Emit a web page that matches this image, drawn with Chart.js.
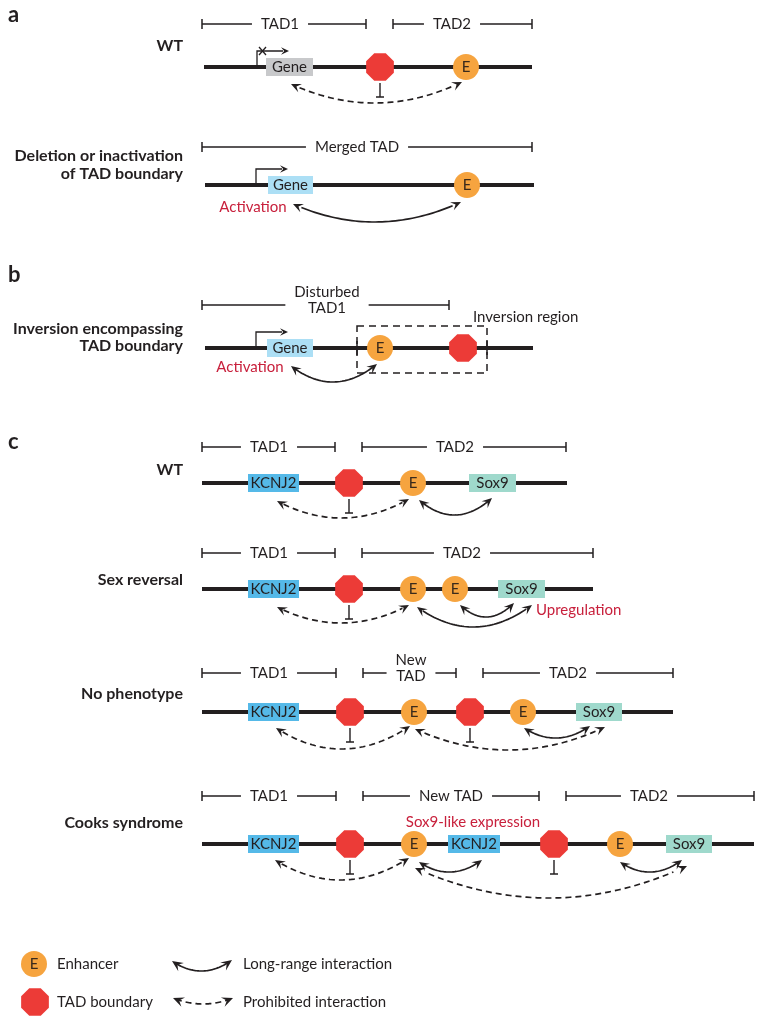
<!DOCTYPE html>
<html>
<head>
<meta charset="utf-8">
<script src="https://cdn.jsdelivr.net/npm/chart.js@4.4.1/dist/chart.umd.min.js"></script>
<style>
  html, body { margin: 0; padding: 0; background: #fff; }
  #wrap { width: 765px; height: 1024px; }
</style>
</head>
<body>
<div id="wrap"><canvas id="tad-chart" width="765" height="1024"></canvas></div>
<script>
// ---- data: tracks (x = position along the genome line) ----
const rowLabels = [
  ["WT"],
  ["Deletion or inactivation", "of TAD boundary"],
  ["Inversion encompassing", "TAD boundary"],
  ["WT"],
  ["Sex reversal"],
  ["No phenotype"],
  ["Cooks syndrome"]
];
const trackStart = [204, 205, 205, 202, 202, 202, 202];
const trackEnd = [532, 534, 533, 567, 593, 673, 754];

// [row, from, to, label, label centre]
const tads = [
  [0, 202, 366, "TAD1", 280], [0, 393, 532, "TAD2", 452],
  [1, 202, 532, "Merged TAD", 357],
  [2, 202, 449, "Disturbed\nTAD1", 327],
  [3, 202, 335, "TAD1", 269], [3, 362, 566, "TAD2", 455],
  [4, 202, 335, "TAD1", 269], [4, 362, 593, "TAD2", 462],
  [5, 202, 336, "TAD1", 269], [5, 363, 456, "New\nTAD", 411], [5, 483, 673, "TAD2", 568],
  [6, 202, 336, "TAD1", 269], [6, 363, 539, "New TAD", 451], [6, 566, 754, "TAD2", 649]
];

// [row, from, to, name, kind]
const genes = [
  [0, 266, 313, "Gene", "off"],
  [1, 268, 313, "Gene", "on"],
  [2, 267, 313, "Gene", "on"],
  [3, 248, 299, "KCNJ2", "kcnj2"], [3, 469, 516, "Sox9", "sox9"],
  [4, 248, 299, "KCNJ2", "kcnj2"], [4, 498, 545, "Sox9", "sox9"],
  [5, 248, 299, "KCNJ2", "kcnj2"], [5, 576, 622, "Sox9", "sox9"],
  [6, 248, 299, "KCNJ2", "kcnj2"], [6, 448, 500, "KCNJ2", "kcnj2"], [6, 666, 712, "Sox9", "sox9"]
];

// [row, x, blocks]  (blocks = draws the inhibition bar)
const boundaries = [
  [0, 380, true], [2, 463, false], [3, 349, true], [4, 349, true],
  [5, 350, true], [5, 470, true], [6, 350, true], [6, 554, true]
];
// [row, x]
const enhancers = [
  [0, 466], [1, 467], [2, 380], [3, 413], [4, 413], [4, 455],
  [5, 414], [5, 523], [6, 414], [6, 620]
];
// [row, x, silenced]
const promoters = [[0, 257, true], [1, 256, false], [2, 256, false]];

// [row, from, to, end drop, depth, prohibited]
const interactions = [
  [0, 291, 462, 17, 36, true],
  [1, 293, 461, 19, 37, false],
  [2, 291, 377, 18, 34, false],
  [3, 277, 409, 18, 35, true], [3, 419, 492, 17, 32, false],
  [4, 277, 409, 18, 34, true], [4, 417, 532, 18, 38, false], [4, 460, 514, 16, 28, false],
  [5, 276, 410, 16, 37, true], [5, 415, 605, 17, 38, true], [5, 524, 590, 16, 26, false],
  [6, 275, 409, 16, 36, true], [6, 419, 482, 18, 28, false], [6, 415, 687, 24, 54, true], [6, 620, 682, 18, 28, false]
];

// [row, text, x, align]
const notes = [
  [1, "Activation", 253, "center"],
  [2, "Activation", 250, "center"],
  [4, "Upregulation", 536, "left"],
  [6, "Sox9-like expression", 473, "center"]
];

// ---- layout ----
const rowY = [67, 185, 348, 483, 589, 712, 844];
const bracketY = [24, 147, 305, 447, 553, 673, 796];
const labelY = [[46], [156, 174], [329, 346], [470], [580], [694], [823]];
const noteY = [0, 207, 367, 0, 610, 0, 822];
const panels = [["a", 8, 15], ["b", 8, 275], ["c", 8, 442]];

const FONT = 'Lato, "Open Sans", sans-serif';
const INK = "#231f20";
const ORANGE = "#f6a43f";
const RED = "#ec3b37";
const NOTE = "#c8203c";
const boxColor = { off: "#c8c9cb", on: "#acdff5", kcnj2: "#55b9e8", sox9: "#9fd9cc" };

// octagon marker for TAD boundaries
function makeOctagon(r) {
  const c = document.createElement("canvas");
  c.width = c.height = Math.ceil(r * 2);
  const g = c.getContext("2d");
  g.beginPath();
  for (let k = 0; k < 8; k++) {
    const a = (22.5 + 45 * k) * Math.PI / 180;
    const px = r + r * Math.cos(a), py = r + r * Math.sin(a);
    k ? g.lineTo(px, py) : g.moveTo(px, py);
  }
  g.closePath();
  g.fillStyle = RED;
  g.fill();
  return c;
}
const octagon = makeOctagon(15);

function arrowHead(ctx, x, y, dx, dy, len, wid) {
  const n = Math.hypot(dx, dy); dx /= n; dy /= n;
  const px = -dy, py = dx;
  ctx.beginPath();
  ctx.moveTo(x, y);
  ctx.lineTo(x - dx * len + px * wid, y - dy * len + py * wid);
  ctx.lineTo(x - dx * len * 0.6, y - dy * len * 0.6);
  ctx.lineTo(x - dx * len - px * wid, y - dy * len - py * wid);
  ctx.closePath();
  ctx.fill();
}

function curvedArrow(ctx, x1, y1, x2, y2, yb, dashed, head) {
  const cx = (x1 + x2) / 2, cy = 2 * yb - (y1 + y2) / 2;
  head = head || 10;
  ctx.save();
  ctx.strokeStyle = INK; ctx.fillStyle = INK;
  ctx.lineWidth = 1.7;
  ctx.setLineDash(dashed ? [6, 4] : []);
  // trim ends so the heads sit on the tips
  const t = 0.05;
  const q = s => [(1 - s) * (1 - s) * x1 + 2 * (1 - s) * s * cx + s * s * x2,
                  (1 - s) * (1 - s) * y1 + 2 * (1 - s) * s * cy + s * s * y2];
  ctx.beginPath();
  const p0 = q(t);
  ctx.moveTo(p0[0], p0[1]);
  for (let s = t; s <= 1 - t + 1e-6; s += 0.02) { const p = q(s); ctx.lineTo(p[0], p[1]); }
  ctx.stroke();
  ctx.setLineDash([]);
  arrowHead(ctx, x1, y1, x1 - cx, y1 - cy, head, head * 0.45);
  arrowHead(ctx, x2, y2, x2 - cx, y2 - cy, head, head * 0.45);
  ctx.restore();
}

const tadPlugin = {
  id: "tadDiagram",
  beforeDatasetsDraw(chart) {
    const { ctx } = chart;
    const X = v => chart.scales.x.getPixelForValue(v);
    const Y = v => chart.scales.y.getPixelForValue(v);
    ctx.save();
    ctx.fillStyle = INK;
    ctx.textBaseline = "middle";

    // panel letters
    ctx.font = "bold 22px " + FONT;
    ctx.textAlign = "left";
    panels.forEach(([t, x, y]) => ctx.fillText(t, X(x), Y(y)));

    // row labels
    ctx.font = "bold 16px " + FONT;
    ctx.textAlign = "right";
    rowLabels.forEach((lines, r) => lines.forEach((t, i) => ctx.fillText(t, X(183), Y(labelY[r][i]))));

    // TAD brackets
    ctx.font = "15px " + FONT;
    ctx.textAlign = "center";
    ctx.strokeStyle = INK;
    ctx.lineWidth = 1.5;
    tads.forEach(([r, a, b, label, lx]) => {
      const lines = label.split("\n");
      const y = Y(bracketY[r]);
      const w = Math.max(...lines.map(l => ctx.measureText(l).width));
      const g1 = X(lx) - w / 2 - 9, g2 = X(lx) + w / 2 + 9;
      ctx.beginPath();
      ctx.moveTo(X(a), y); ctx.lineTo(g1, y);
      ctx.moveTo(g2, y); ctx.lineTo(X(b), y);
      ctx.moveTo(X(a), y - 5); ctx.lineTo(X(a), y + 5);
      ctx.moveTo(X(b), y - 5); ctx.lineTo(X(b), y + 5);
      ctx.stroke();
      const base = lines.length > 1 ? 3 : 0;
      lines.forEach((t, i) => ctx.fillText(t, X(lx), y + base - (lines.length - 1 - i) * 16));
    });

    // genome lines
    ctx.lineWidth = 4.2;
    rowY.forEach((y, r) => {
      ctx.beginPath();
      ctx.moveTo(X(trackStart[r]), Y(y));
      ctx.lineTo(X(trackEnd[r]), Y(y));
      ctx.stroke();
    });

    // gene boxes
    ctx.font = "15px " + FONT;
    genes.forEach(([r, a, b, name, kind]) => {
      const y = Y(rowY[r]);
      ctx.fillStyle = boxColor[kind];
      ctx.fillRect(X(a), y - 9, X(b) - X(a), 18);
      ctx.fillStyle = INK;
      ctx.fillText(name, (X(a) + X(b)) / 2, y + 0.5);
    });

    // promoters
    ctx.lineWidth = 1.3;
    promoters.forEach(([r, x, off]) => {
      const y = Y(rowY[r]), px = X(x);
      ctx.beginPath();
      ctx.moveTo(px, y); ctx.lineTo(px, y - 16); ctx.lineTo(px + 26, y - 16);
      ctx.stroke();
      arrowHead(ctx, px + 32, y - 16, 1, 0, 8, 3.8);
      if (off) {
        ctx.beginPath();
        ctx.moveTo(px + 2, y - 20); ctx.lineTo(px + 9, y - 12);
        ctx.moveTo(px + 9, y - 20); ctx.lineTo(px + 2, y - 12);
        ctx.stroke();
      }
    });

    // inhibition bars below boundaries
    ctx.lineWidth = 1.4;
    boundaries.forEach(([r, x, blocks]) => {
      if (!blocks) return;
      const y = Y(rowY[r]), px = X(x);
      ctx.beginPath();
      ctx.moveTo(px, y + 16); ctx.lineTo(px, y + 30);
      ctx.moveTo(px - 4, y + 30); ctx.lineTo(px + 4, y + 30);
      ctx.stroke();
    });

    // interactions
    interactions.forEach(([r, a, b, drop, depth, dashed]) => {
      const y = rowY[r];
      curvedArrow(ctx, X(a), Y(y + drop), X(b), Y(y + drop - 2), Y(y + depth), dashed);
    });

    // red notes
    ctx.font = "15px " + FONT;
    ctx.fillStyle = NOTE;
    notes.forEach(([r, t, x, align]) => {
      ctx.textAlign = align;
      ctx.fillText(t, X(x), Y(noteY[r]));
    });

    // inversion region (panel b)
    ctx.fillStyle = INK;
    ctx.textAlign = "left";
    ctx.fillText("Inversion region", X(473), Y(317));
    ctx.setLineDash([7, 5]);
    ctx.lineWidth = 1.5;
    ctx.strokeRect(X(357), Y(326), X(487) - X(357), Y(373) - Y(326));
    ctx.setLineDash([]);
    ctx.beginPath();
    ctx.moveTo(X(357), Y(341)); ctx.lineTo(X(357), Y(355));
    ctx.moveTo(X(487), Y(341)); ctx.lineTo(X(487), Y(355));
    ctx.stroke();

    // legend
    ctx.fillText("Enhancer", X(57), Y(964));
    ctx.fillText("TAD boundary", X(57), Y(1002));
    ctx.fillText("Long-range interaction", X(243), Y(964));
    ctx.fillText("Prohibited interaction", X(243), Y(1002));
    curvedArrow(ctx, X(172), Y(961), X(232), Y(960), Y(971), false, 11);
    curvedArrow(ctx, X(173), Y(998), X(233), Y(998), Y(1004), true, 11);
    ctx.restore();
  },
  afterDatasetsDraw(chart) {
    const { ctx } = chart;
    const X = v => chart.scales.x.getPixelForValue(v);
    const Y = v => chart.scales.y.getPixelForValue(v);
    ctx.save();
    ctx.font = "15px " + FONT;
    ctx.fillStyle = "#3a2a1c";
    ctx.textAlign = "center";
    ctx.textBaseline = "middle";
    enhancers.forEach(([r, x]) => ctx.fillText("E", X(x), Y(rowY[r]) + 0.5));
    ctx.fillText("E", X(34), Y(964) + 0.5);
    ctx.restore();
  }
};

const enhancerPts = enhancers.map(([r, x]) => ({ x, y: rowY[r] })).concat([{ x: 34, y: 964 }]);
const boundaryPts = boundaries.map(([r, x]) => ({ x, y: rowY[r] })).concat([{ x: 35, y: 1002 }]);

new Chart(document.getElementById("tad-chart"), {
  type: "scatter",
  data: {
    datasets: [
      {
        label: "Enhancer",
        data: enhancerPts,
        pointStyle: "circle",
        pointRadius: 13,
        backgroundColor: ORANGE,
        borderColor: ORANGE,
        borderWidth: 0
      },
      {
        label: "TAD boundary",
        data: boundaryPts,
        pointStyle: octagon,
        pointRadius: 15,
        backgroundColor: RED,
        borderWidth: 0
      }
    ]
  },
  options: {
    responsive: false,
    animation: false,
    events: [],
    layout: { padding: 0, autoPadding: false },
    plugins: { legend: { display: false }, tooltip: { enabled: false } },
    scales: {
      x: { type: "linear", min: 0, max: 765, display: false },
      y: { type: "linear", min: 0, max: 1024, reverse: true, display: false }
    }
  },
  plugins: [tadPlugin]
});
</script>
</body>
</html>
